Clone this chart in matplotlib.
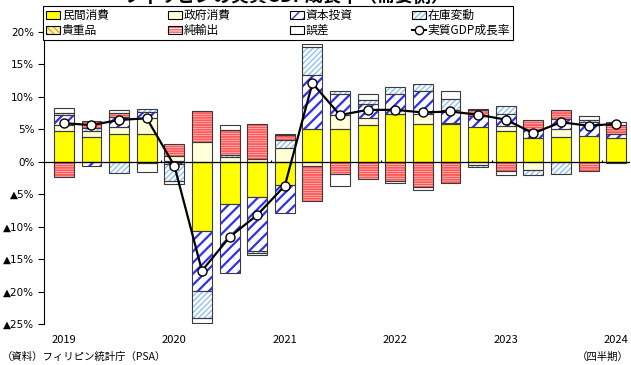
import matplotlib
matplotlib.use("Agg")
import matplotlib.pyplot as plt
from matplotlib.patches import Patch
from matplotlib.lines import Line2D
from matplotlib.legend_handler import HandlerTuple
import numpy as np

plt.rcParams['font.family'] = ['Noto Sans CJK JP', 'DejaVu Sans']

# 2019Q1 .. 2024Q1, contributions in % points
quarters = np.arange(21)
year_pos = [0, 4, 8, 12, 16, 20]
year_labels = ["2019", "2020", "2021", "2022", "2023", "2024"]

private = [4.7, 3.85, 4.25, 4.3, 0.1, -10.6, -6.5, -5.4, -3.55, 5.1, 5.1,
           5.6, 7.3, 5.8, 5.8, 5.3, 4.7, 3.65, 3.85, 4.0, 3.6]
government = [1.0, 0.95, 1.05, 2.4, 0.8, 3.0, 0.7, 0.5, 2.1, -0.7, 2.1,
              1.1, 0.1, 1.55, 0.2, -0.55, 0.85, -1.3, 1.15, 0.0, 0.0]
investment = [1.55, -0.6, 1.65, 0.9, -0.3, -9.3, -10.7, -8.3, -4.4, 8.2, 3.2,
              2.15, 3.0, 3.6, 2.0, 1.8, 1.8, 1.2, 1.6, 2.2, 0.7]
inventory = [0.3, 0.35, -1.75, 0.5, -2.6, -4.2, 0.3, -0.4, 1.2, 4.4, 0.5,
             0.65, 1.2, 1.0, 1.7, -0.25, 1.25, -0.7, -1.9, 0.3, -0.2]
valuables = [0, 0, 0, 0, 0, 0, 0, 0, 0, 0, 0,
             0, 0, 0, 0, 0, 0, 0, 0, 0, 0]
net_exports = [-2.3, 1.1, 0.5, -0.25, 1.9, 4.9, 3.9, 5.3, 0.8, -5.3, -1.9,
               -2.7, -3.0, -3.9, -3.2, 0.9, -1.4, 1.55, 1.4, -1.4, 1.4]
errors = [0.7, 0.0, 0.55, -1.25, -0.5, -0.8, 0.8, -0.2, 0.2, 0.4, -1.8,
          1.0, -0.3, -0.4, 1.15, 0.1, -0.6, 0.0, 0.0, 0.5, 0.5]
gdp = [5.95, 5.65, 6.45, 6.7, -0.6, -16.8, -11.6, -8.2, -3.7, 12.1, 7.2,
       8.0, 8.0, 7.6, 7.75, 7.25, 6.5, 4.4, 6.1, 5.55, 5.85]

y_ticks = [20, 15, 10, 5, 0, -5, -10, -15, -20, -25]
y_ticklabels = ["20%", "15%", "10%", "5%", "0%", "▲5%", "▲10%", "▲15%", "▲20%", "▲25%"]

# name, values, face, hatch, hatch colour, hatch width
series = [
    ("民間消費", private, "#FFFF00", None, "#FFFF00", 1.0),
    ("政府消費", government, "#FFFFD9", None, "#FFFFD9", 1.0),
    ("資本投資", investment, "white", "///", "#3030F0", 1.6),
    ("在庫変動", inventory, "white", "//////", "#8EC2F2", 1.0),
    ("貴重品", valuables, "#FFF0C0", "\\\\\\\\\\", "#F5A800", 1.0),
    ("純輸出", net_exports, "white", "-------", "#FF5A5A", 1.4),
    ("誤差", errors, "white", None, "white", 1.0),
]
outline = "#3a3a3a"
width = 0.72

fig = plt.figure(figsize=(6.31, 3.65), dpi=100)
ax = fig.add_axes([44 / 631, 41 / 365, 586 / 631, 292 / 365])

pos_bottom = np.zeros(len(quarters))
neg_bottom = np.zeros(len(quarters))
handles = []
for name, vals, face, hatch, hcol, hlw in series:
    v = np.array(vals, dtype=float)
    bottom = np.where(v > 0, pos_bottom, neg_bottom)
    idx = v != 0
    plt.rcParams['hatch.linewidth'] = hlw
    ax.bar(quarters[idx], v[idx], width, bottom=bottom[idx], color=face,
           hatch=hatch, edgecolor=hcol, linewidth=0, zorder=2)
    ax.bar(quarters[idx], v[idx], width, bottom=bottom[idx], fill=False,
           edgecolor=outline, linewidth=0.8, zorder=2.5)
    pos_bottom += np.where(v > 0, v, 0)
    neg_bottom += np.where(v < 0, v, 0)
    handles.append((Patch(facecolor=face, hatch=hatch, edgecolor=hcol, linewidth=0),
                    Patch(fill=False, edgecolor="black", linewidth=0.8)))

ax.axhline(0, color="black", linewidth=0.9, zorder=3)
ax.vlines(np.array(year_pos[1:]) - 0.5, 0, 0.35, color="black", linewidth=0.8, zorder=3)

ax.plot(quarters, gdp, color="black", linewidth=1.6, marker="o", markersize=6.5,
        markerfacecolor="white", markeredgecolor="black", markeredgewidth=1, zorder=5)

ax.set_xlim(-0.72, 20.5)
ax.set_ylim(-25, 20)
ax.set_yticks(y_ticks)
ax.set_yticklabels(y_ticklabels, fontsize=7.5, family=['DejaVu Sans'])
ax.tick_params(axis="y", direction="out", length=4, width=0.8, pad=3)
ax.set_xticks(year_pos)
ax.set_xticklabels(year_labels, fontsize=8)
ax.tick_params(axis="x", length=0, pad=8)
for s in ["top", "right", "bottom"]:
    ax.spines[s].set_visible(False)
ax.spines["left"].set_linewidth(0.8)

gdp_handle = Line2D([], [], color="black", linewidth=1.4, marker="o", markersize=6,
                    markerfacecolor="white", markeredgecolor="black")
labels = [s[0] for s in series] + ["実質GDP成長率"]
all_handles = handles + [gdp_handle]
order = [0, 4, 1, 5, 2, 6, 3, 7]
leg = fig.legend([all_handles[i] for i in order], [labels[i] for i in order],
                 loc="lower left", bbox_to_anchor=(43 / 631, 1 - 40 / 365, 470 / 631, 32 / 365),
                 mode="expand", ncol=4, fontsize=8.5, frameon=True, fancybox=False,
                 edgecolor="black", framealpha=1, handlelength=1.2, handleheight=0.6,
                 handletextpad=0.15, borderaxespad=0, borderpad=0.25, labelspacing=0.15,
                 handler_map={tuple: HandlerTuple(ndivide=1, pad=0)})
leg.get_frame().set_linewidth(0.8)

fig.text(287 / 631, 1 + 4 / 365, "フィリピンの実質GDP成長率（需要側）", ha="center",
         va="center", fontsize=13, fontweight="bold")
fig.text(2 / 631, 1 - 357 / 365, "（資料）フィリピン統計庁（PSA）", fontsize=7.5, va="center")
fig.text(629 / 631, 1 - 357 / 365, "（四半期）", fontsize=7.5, va="center", ha="right")

fig.savefig("out.png", dpi=100)
plt.close(fig)
